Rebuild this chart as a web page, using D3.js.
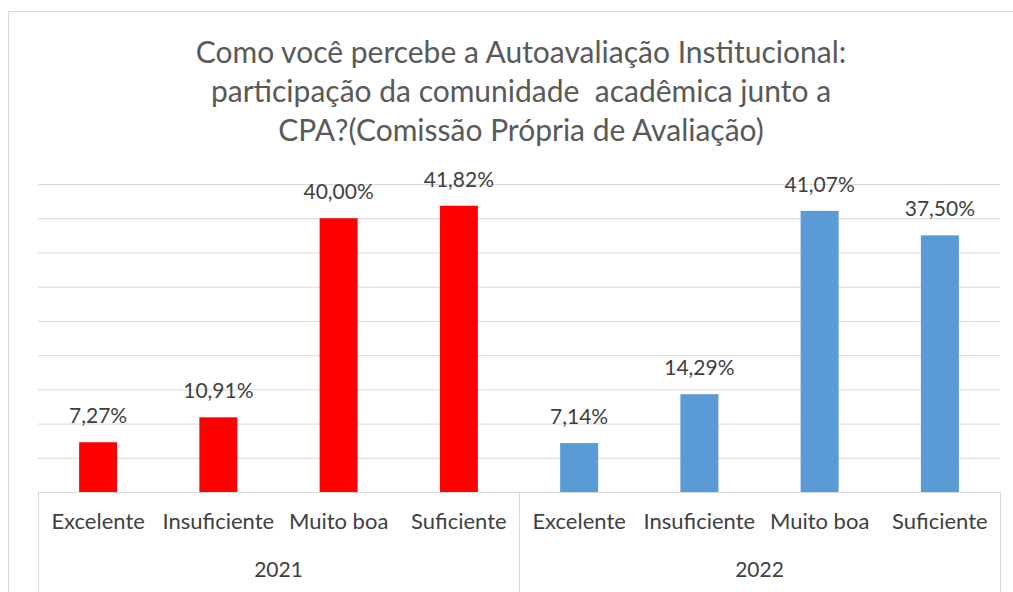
<!DOCTYPE html>
<html>
<head>
<meta charset="utf-8">
<script src="https://cdn.jsdelivr.net/npm/d3@7"></script>
<style>
  body { margin: 0; background: #fff; }
  svg { display: block; font-family: Lato, "Liberation Sans", sans-serif; }
</style>
</head>
<body>
<svg width="1013" height="592"></svg>
<script>
// dados
var years = ["2021", "2022"];
var categories = ["Excelente", "Insuficiente", "Muito boa", "Suficiente"];
var values2021 = [7.27, 10.91, 40.00, 41.82];
var values2022 = [7.14, 14.29, 41.07, 37.50];
var yTicks = [0, 5, 10, 15, 20, 25, 30, 35, 40, 45];
var colors = {"2021": "#ff0000", "2022": "#5b9bd5"};
var titleLines = [
  "Como você percebe a Autoavaliação Institucional:",
  "participação da comunidade  acadêmica junto a",
  "CPA?(Comissão Própria de Avaliação)"
];

var dataset = [];
years.forEach(function(yr, i) {
  var vals = i == 0 ? values2021 : values2022;
  categories.forEach(function(c, j) {
    dataset.push({year: yr, cat: c, key: yr + "|" + c, value: vals[j]});
  });
});

var margin = {top: 184, right: 13, bottom: 100, left: 38};
var width = 1013 - margin.left - margin.right;
var height = 492 - margin.top;

var pt = d3.formatLocale({decimal: ",", thousands: ".", grouping: [3], currency: ["", ""]});
var fmt = pt.format(".2f");

var svg = d3.select("svg");

// borda do gráfico
svg.append("rect")
  .attr("x", 8.5).attr("y", 11.5)
  .attr("width", 1020).attr("height", 600)
  .attr("fill", "none").attr("stroke", "#d9d9d9");

// título
svg.append("g").selectAll("text")
  .data(titleLines)
  .enter()
  .append("text")
  .attr("x", 521)
  .attr("y", (d, i) => 63 + i * 39)
  .attr("text-anchor", "middle")
  .attr("fill", "#595959")
  .style("font-size", "30px")
  .style("white-space", "pre")
  .text(d => d);

var g = svg.append("g")
  .attr("transform", "translate(" + margin.left + "," + margin.top + ")");

var xScale = d3.scaleBand()
  .domain(dataset.map(d => d.key))
  .range([0, width])
  .paddingInner(0.684)
  .paddingOuter(0.342);

var yScale = d3.scaleLinear().domain([0, 45]).range([height, 0]);

// grade
var yAxis = d3.axisLeft(yScale).tickValues(yTicks).tickSize(-width).tickFormat("");
g.append("g")
  .attr("class", "grid")
  .call(yAxis)
  .call(s => s.select(".domain").remove())
  .call(s => s.selectAll("line").attr("stroke", "#d9d9d9"));

// barras
g.selectAll(".bar")
  .data(dataset)
  .enter()
  .append("rect")
  .attr("class", "bar")
  .attr("x", d => xScale(d.key))
  .attr("y", d => yScale(d.value))
  .attr("width", xScale.bandwidth())
  .attr("height", d => height - yScale(d.value))
  .attr("fill", d => colors[d.year]);

// rótulos
g.selectAll(".lbl")
  .data(dataset)
  .enter()
  .append("text")
  .attr("class", "lbl")
  .attr("x", d => xScale(d.key) + xScale.bandwidth() / 2)
  .attr("y", d => yScale(d.value) - 19)
  .attr("text-anchor", "middle")
  .attr("fill", "#404040")
  .style("font-size", "21px")
  .text(d => fmt(d.value) + "%");

// eixo x (categorias)
var xAxis = d3.axisBottom(xScale).tickSize(0).tickPadding(0).tickFormat(k => k.split("|")[1]);
var xAxisGroup = g.append("g")
  .attr("class", "xAxis")
  .attr("transform", "translate(0," + height + ")")
  .call(xAxis);
xAxisGroup.select(".domain").attr("stroke", "#d9d9d9");
xAxisGroup.selectAll("text")
  .attr("y", 37)
  .attr("dy", null)
  .attr("fill", "#404040")
  .style("font-size", "22px")
  .style("font-family", "Lato, 'Liberation Sans', sans-serif");

// eixo x (anos)
var groupScale = d3.scaleBand().domain(years).range([0, width]);
var yearGroup = g.append("g").attr("transform", "translate(0," + height + ")");
yearGroup.selectAll("line")
  .data([0].concat(years.map(y => groupScale(y) + groupScale.bandwidth())))
  .enter()
  .append("line")
  .attr("x1", d => Math.round(d) + 0.5).attr("x2", d => Math.round(d) + 0.5)
  .attr("y1", 0).attr("y2", 100)
  .attr("stroke", "#d9d9d9");
yearGroup.selectAll("text")
  .data(years)
  .enter()
  .append("text")
  .attr("x", d => groupScale(d) + groupScale.bandwidth() / 2)
  .attr("y", 85)
  .attr("text-anchor", "middle")
  .attr("fill", "#404040")
  .style("font-size", "21px")
  .text(d => d);
</script>
</body>
</html>
